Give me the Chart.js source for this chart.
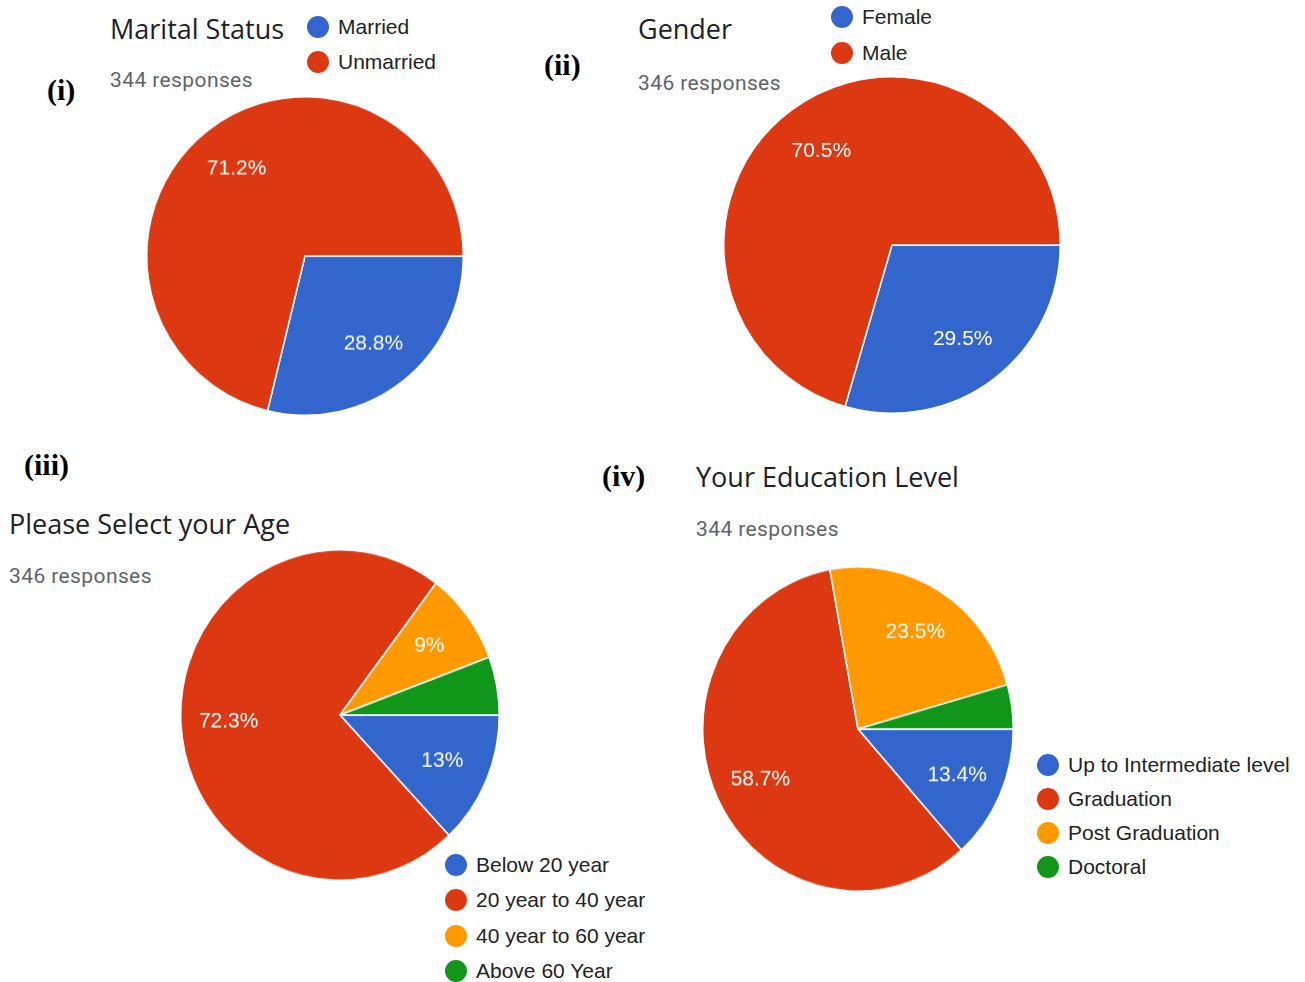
<!DOCTYPE html>
<html>
<head>
<meta charset="utf-8">
<script src="https://cdn.jsdelivr.net/npm/chart.js@4.4.1/dist/chart.umd.min.js"></script>
<style>
  body{margin:0;background:#fff;}
  #page{position:relative;width:1305px;height:982px;overflow:hidden;background:#fff;}
  .abs{position:absolute;white-space:nowrap;line-height:1;}
  .tag{font-family:"Liberation Serif","Times New Roman",serif;font-weight:bold;font-size:30px;color:#000;}
  .title{font-family:"Open Sans",Roboto,sans-serif;font-size:27px;color:#202124;}
  .sub{font-family:Roboto,"Open Sans",sans-serif;font-size:21px;letter-spacing:0.4px;color:#5f6368;}
  .leg{font-family:"Liberation Sans",Arial,sans-serif;font-size:21px;color:#222;}
  .dot{position:absolute;width:22px;height:22px;border-radius:50%;}
  canvas{position:absolute;}
</style>
</head>
<body>
<div id="page"></div>
<script>
const COLORS=["#3366CC","#DC3912","#FF9900","#109618"];

const maritalLabels=["Married","Unmarried"];
const maritalPct=[28.8,71.2];

const genderLabels=["Female","Male"];
const genderPct=[29.5,70.5];

const ageLabels=["Below 20 year","20 year to 40 year","40 year to 60 year","Above 60 Year"];
const agePct=[13,72.3,9,5.7];

const eduLabels=["Up to Intermediate level","Graduation","Post Graduation","Doctoral"];
const eduPct=[13.4,58.7,23.5,4.4];

const page=document.getElementById("page");

function text(cls,str,x,y){
  const d=document.createElement("div");
  d.className="abs "+cls;
  d.textContent=str;
  d.style.left=x+"px";d.style.top=y+"px";
  page.appendChild(d);
}

// legend: coloured dot + label, one row per category
function legend(labels,x,y,step){
  labels.forEach((l,i)=>{
    const dot=document.createElement("div");
    dot.className="dot";
    dot.style.background=COLORS[i];
    dot.style.left=(x-11)+"px";dot.style.top=(y+i*step-11)+"px";
    page.appendChild(dot);
    text("leg",l,x+20,y+i*step-11);
  });
}

// percentage text inside each slice, skipped for thin slices
const sliceLabels={
  id:"sliceLabels",
  afterDatasetsDraw(chart){
    const ctx=chart.ctx;
    const vals=chart.data.datasets[0].data;
    ctx.save();
    ctx.fillStyle="#fff";
    ctx.font='21px "Liberation Sans", Arial, sans-serif';
    ctx.textAlign="center";ctx.textBaseline="middle";
    chart.getDatasetMeta(0).data.forEach((arc,i)=>{
      if(vals[i]<7)return;
      const p=arc.getProps(["x","y","startAngle","endAngle","outerRadius"],true);
      const mid=(p.startAngle+p.endAngle)/2;
      const rr=p.outerRadius*0.7;
      ctx.fillText(vals[i]+"%",p.x+Math.cos(mid)*rr,p.y+Math.sin(mid)*rr);
    });
    ctx.restore();
  }
};

// rx/ry: the canvas is stretched a little vertically for the lower pies
function pie(labels,values,cx,cy,rx,ry){
  const c=document.createElement("canvas");
  const s=2*rx+2;
  c.width=s;c.height=s;
  c.style.width=s+"px";c.style.height=(2*ry+2)+"px";
  c.style.left=(cx-rx-1)+"px";c.style.top=(cy-ry-1)+"px";
  page.appendChild(c);
  new Chart(c,{
    type:"pie",
    data:{labels,datasets:[{
      data:values,
      backgroundColor:COLORS.slice(0,values.length),
      borderColor:"#fff",
      borderWidth:1.5,
      hoverBorderWidth:1.5
    }]},
    options:{
      responsive:false,
      animation:false,
      rotation:90,
      layout:{padding:0},
      plugins:{legend:{display:false},tooltip:{enabled:false}}
    },
    plugins:[sliceLabels]
  });
}

// (i) marital status
text("tag","(i)",47,75);
text("title","Marital Status",110,15);
text("sub","344 responses",110,70);
legend(maritalLabels,318,27,35);
pie(maritalLabels,maritalPct,305,256,158,159);

// (ii) gender
text("tag","(ii)",544,50);
text("title","Gender",638,15);
text("sub","346 responses",638,73);
legend(genderLabels,842,17,36);
pie(genderLabels,genderPct,892,245,168,168);

// (iii) age
text("tag","(iii)",24,450);
text("title","Please Select your Age",9,510);
text("sub","346 responses",9,566);
legend(ageLabels,456,865,35.3);
pie(ageLabels,agePct,340,715,159,165);

// (iv) education
text("tag","(iv)",602,461);
text("title","Your Education Level",696,463);
text("sub","344 responses",696,519);
legend(eduLabels,1048,765,34);
pie(eduLabels,eduPct,858,729,155,162);
</script>
</body>
</html>
